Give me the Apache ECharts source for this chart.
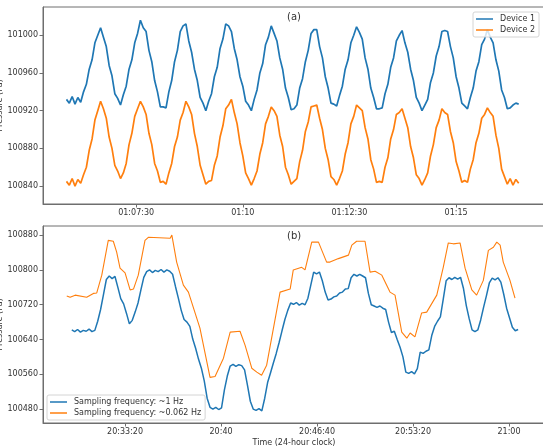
<!DOCTYPE html>
<html>
<head>
<meta charset="utf-8">
<script src="https://cdn.jsdelivr.net/npm/echarts@6/dist/echarts.min.js"></script>
<style>
html, body { margin: 0; padding: 0; background: #fff; }
#chart { width: 543px; height: 448px; }
</style>
</head>
<body>
<div id="chart"></div>
<script>
// panel (a): two devices, one sample every 4 s
var topStart = '01:05:52';
var topStep = 4;
var device1 = [100932,100928,100935,100927,100934,100929,100940,100948,100964,100974,100992,101000,101008,100998,100988,100968,100957,100938,100933,100926,
  100937,100946,100964,100974,100992,101002,101016,101008,101004,100984,100972,100952,100940,100924,100924,100923,100940,100952,100972,100984,
  101004,101010,101012,100994,100982,100964,100952,100934,100928,100920,100930,100938,100956,100966,100986,100996,101012,101010,101004,100986,
  100974,100956,100946,100930,100926,100920,100932,100942,100960,100970,100990,100998,101010,101002,100994,100976,100964,100944,100934,100921,
  100922,100926,100944,100954,100972,100984,101002,101006,101006,100988,100976,100956,100944,100928,100927,100925,100936,100946,100964,100974,
  100992,101000,101009,101003,100996,100976,100964,100944,100934,100922,100922,100923,100938,100948,100966,100976,100994,101000,101005,100992,
  100982,100964,100952,100934,100928,100920,100926,100932,100950,100960,100978,100988,101004,101005,101004,100988,100976,100956,100944,100928,
  100925,100922,100934,100944,100962,100972,100990,100996,101006,100998,100992,100974,100962,100942,100934,100922,100923,100926,100928,100927];
var device2 = [100845,100841,100848,100840,100847,100843,100852,100860,100878,100890,100910,100920,100930,100922,100912,100892,100880,100862,100856,100848,
  100854,100864,100884,100896,100914,100922,100930,100924,100916,100896,100884,100864,100856,100844,100845,100842,100854,100864,100882,100892,
  100910,100918,100930,100924,100916,100896,100882,100862,100852,100842,100845,100846,100862,100872,100892,100904,100922,100926,100932,100918,
  100906,100886,100872,100854,100848,100841,100848,100856,100874,100886,100906,100914,100924,100920,100914,100894,100882,100860,100852,100842,
  100845,100848,100866,100878,100898,100908,100924,100925,100926,100912,100900,100880,100868,100850,100847,100841,100848,100856,100874,100886,
  100906,100914,100926,100923,100920,100902,100890,100868,100858,100844,100845,100844,100860,100870,100890,100900,100916,100918,100922,100912,
  100902,100882,100870,100852,100848,100841,100847,100854,100872,100884,100902,100910,100922,100918,100916,100898,100886,100866,100856,100844,
  100846,100844,100858,100868,100886,100896,100912,100916,100923,100918,100914,100894,100880,100858,100850,100842,100848,100841,100847,100843];

// panel (b): ~1 Hz trace shown every 12 s, ~0.062 Hz trace as read
var botStart = '20:29:38';
var botStep = 12;
var fast = [100662,100658,100663,100657,100661,100659,100664,100658,100661,100682,100709,100743,100778,100786,100780,100785,100760,100734,100722,100700,
  100676,100684,100703,100724,100754,100783,100796,100800,100794,100799,100796,100801,100795,100800,100797,100790,100762,100735,100707,100686,
  100680,100670,100641,100620,100595,100574,100545,100505,100484,100480,100484,100479,100483,100524,100556,100579,100583,100578,100582,100580,
  100570,100535,100498,100480,100477,100481,100476,100505,100541,100563,100586,100608,100633,100660,100686,100707,100724,100721,100725,100719,
  100723,100720,100735,100765,100795,100791,100795,100775,100749,100731,100733,100738,100740,100747,100749,100756,100757,100782,100790,100786,
  100790,100786,100782,100746,100720,100717,100714,100717,100712,100709,100680,100656,100659,100640,100622,100600,100565,100562,100566,100561,
  100573,100611,100608,100613,100616,100649,100670,100682,100692,100733,100775,100782,100778,100783,100779,100783,100758,100718,100688,100662,
  100658,100662,100685,100714,100741,100770,100781,100777,100782,100772,100744,100712,100690,100668,100660,100663];
var slowBase = '20:00:00';
var slowSec = [1757,1771,1792,1840,1868,1882,1903,1930,1951,1965,1979,2000,2021,2035,2055,2083,2097,2188,2195,2215,
  2243,2264,2312,2354,2375,2410,2438,2479,2500,2528,2549,2569,2590,2646,2688,2701,2736,2750,2778,2806,
  2820,2840,2854,2889,2931,2945,2965,3000,3021,3042,3070,3104,3125,3153,3174,3188,3208,3236,3257,3299,
  3326,3347,3368,3396,3417,3445,3465,3493,3514,3535,3549,3563,3576,3604,3625];
var slow = [100740,100737,100742,100737,100746,100747,100788,100868,100866,100841,100804,100793,100754,100756,100788,100868,100875,100873,100880,100818,
  100765,100749,100666,100553,100555,100597,100657,100659,100627,100574,100565,100558,100581,100749,100756,100800,100806,100800,100864,100864,
  100845,100818,100818,100826,100834,100857,100866,100866,100795,100797,100788,100749,100742,100657,100643,100655,100646,100701,100703,100742,
  100806,100862,100860,100862,100804,100754,100742,100776,100845,100852,100864,100857,100818,100776,100735];

var topTicks = ['01:07:30', '01:10:00', '01:12:30', '01:15:00'];
var botTicks = ['20:33:20', '20:40:00', '20:46:40', '20:53:20', '21:00:00'];
var topYTicks = [100840, 100880, 100920, 100960, 101000];
var botYTicks = [100480, 100560, 100640, 100720, 100800, 100880];

function toSec(s) {
    var p = s.split(':').map(Number);
    return p[0] * 3600 + p[1] * 60 + (p[2] || 0);
}
function pad(n) { return (n < 10 ? '0' : '') + n; }
function fmt(v) {
    v = Math.round(v);
    var h = Math.floor(v / 3600), m = Math.floor(v % 3600 / 60), s = v % 60;
    return pad(h) + ':' + pad(m) + (s ? ':' + pad(s) : '');
}
function stepped(start, step, vals) {
    var t0 = toSec(start);
    return vals.map(function(v, i) { return [t0 + i * step, v]; });
}
function paired(base, secs, vals) {
    var t0 = toSec(base);
    return vals.map(function(v, i) { return [t0 + secs[i], v]; });
}

var spine = '#6e6e6e';
var txt = '#333';
var blue = '#1f77b4';
var orange = '#ff7f0e';
var font = 'DejaVu Sans';

function xAx(idx, min, max, ticks, extra) {
    var vals = ticks.map(toSec);
    var ax = {
        type: 'value', gridIndex: idx, min: toSec(min), max: toSec(max),
        axisLine: { show: true, lineStyle: { color: spine, width: 1 } },
        axisTick: { show: true, length: 3.5, customValues: vals, lineStyle: { color: spine } },
        axisLabel: { customValues: vals, formatter: fmt, fontSize: 8, color: txt, margin: 5, fontFamily: font },
        splitLine: { show: false }
    };
    return Object.assign(ax, extra || {});
}
function yAx(idx, min, max, ticks) {
    return {
        type: 'value', gridIndex: idx, min: min, max: max,
        name: 'Pressure (Pa)', nameLocation: 'middle', nameGap: 39, nameRotate: 90, nameMoveOverlap: false,
        nameTextStyle: { fontSize: 8, color: txt, fontFamily: font },
        axisLine: { show: true, lineStyle: { color: spine, width: 1 } },
        axisTick: { show: true, length: 3.5, customValues: ticks, lineStyle: { color: spine } },
        axisLabel: { customValues: ticks, formatter: function(v) { return String(v); },
                     fontSize: 8, color: txt, margin: 5, fontFamily: font },
        splitLine: { show: false }
    };
}
function legendBox(names, pos) {
    return Object.assign({
        data: names.map(function(n) { return { name: n, icon: 'rect' }; }),
        orient: 'vertical', itemWidth: 17, itemHeight: 1.5, itemGap: 3, padding: [3, 4, 3, 3],
        backgroundColor: 'rgba(255,255,255,0.8)', borderColor: '#d4d4d4', borderWidth: 1, borderRadius: 2,
        textStyle: { fontSize: 8, color: txt, fontFamily: font, padding: [0, 0, 0, 2] }
    }, pos);
}

var chart = echarts.init(document.getElementById('chart'));
chart.setOption({
    animation: false,
    backgroundColor: '#fff',
    title: [
        { text: '(a)', left: 287, top: 12, padding: 0, textStyle: { fontSize: 10, fontWeight: 'normal', color: txt, fontFamily: font } },
        { text: '(b)', left: 287, top: 231, padding: 0, textStyle: { fontSize: 10, fontWeight: 'normal', color: txt, fontFamily: font } }
    ],
    grid: [
        { left: 43, top: 7, right: -2, height: 197, outerBoundsMode: 'none', containLabel: false,
          show: true, borderColor: spine, borderWidth: 1, backgroundColor: 'transparent' },
        { left: 43, top: 226, right: -2, height: 197, outerBoundsMode: 'none', containLabel: false,
          show: true, borderColor: spine, borderWidth: 1, backgroundColor: 'transparent' }
    ],
    legend: [
        legendBox(['Device 1', 'Device 2'], { right: 4, top: 12 }),
        legendBox(['Sampling frequency: ~1 Hz', 'Sampling frequency: ~0.062 Hz'], { left: 47, top: 395 })
    ],
    xAxis: [
        xAx(0, '01:05:19', '01:17:05', topTicks),
        xAx(1, '20:27:38', '21:02:30', botTicks, {
            name: 'Time (24-hour clock)', nameLocation: 'middle', nameGap: 16, nameMoveOverlap: false,
            nameTextStyle: { fontSize: 8, color: txt, fontFamily: font }
        })
    ],
    yAxis: [
        yAx(0, 100821, 101030, topYTicks),
        yAx(1, 100448, 100901, botYTicks)
    ],
    series: [
        { name: 'Device 1', type: 'line', xAxisIndex: 0, yAxisIndex: 0, symbol: 'none', color: blue,
          lineStyle: { width: 1.7 }, data: stepped(topStart, topStep, device1) },
        { name: 'Device 2', type: 'line', xAxisIndex: 0, yAxisIndex: 0, symbol: 'none', color: orange,
          lineStyle: { width: 1.7 }, data: stepped(topStart, topStep, device2) },
        { name: 'Sampling frequency: ~1 Hz', type: 'line', xAxisIndex: 1, yAxisIndex: 1, symbol: 'none', color: blue,
          lineStyle: { width: 1.5 }, data: stepped(botStart, botStep, fast) },
        { name: 'Sampling frequency: ~0.062 Hz', type: 'line', xAxisIndex: 1, yAxisIndex: 1, symbol: 'none', color: orange,
          lineStyle: { width: 1.1 }, data: paired(slowBase, slowSec, slow) }
    ]
});
</script>
</body>
</html>
